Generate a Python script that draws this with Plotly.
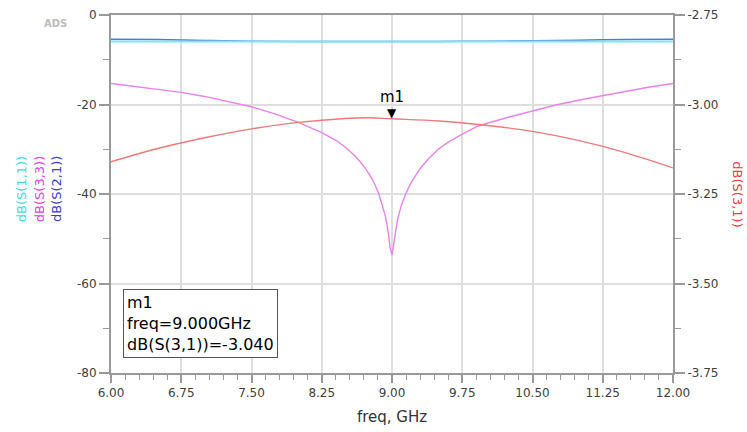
import plotly.graph_objects as go

# ---- data ----
freq_flat = [6.0, 6.5, 7.0, 7.5, 8.0, 8.5, 9.0, 9.5, 10.0, 10.5, 11.0, 11.5, 12.0]
s11_db = [-5.9, -5.9, -5.9, -5.9, -5.9, -5.9, -5.9, -5.9, -5.9, -5.9, -5.9, -5.9, -5.9]
s21_db = [-5.42, -5.5, -5.7, -5.86, -5.9, -5.9, -5.9, -5.9, -5.87, -5.77, -5.62, -5.5, -5.42]

freq_s33 = [6.0, 6.25, 6.5, 6.75, 7.0, 7.25, 7.5, 7.75, 8.0, 8.25, 8.4, 8.5, 8.6, 8.66, 8.72,
            8.78, 8.82, 8.86, 8.9, 8.93, 8.96, 8.98, 9.0, 9.03, 9.06, 9.1, 9.15, 9.2, 9.25,
            9.3, 9.4, 9.5, 9.6, 9.75, 9.9, 10.0, 10.25, 10.5, 10.75, 11.0, 11.25, 11.5, 11.75, 12.0]
s33_db = [-15.3, -16.0, -16.6, -17.3, -18.2, -19.3, -20.5, -22.1, -24.0, -26.3, -28.0, -29.5,
          -31.4, -32.8, -34.4, -36.4, -38.0, -40.0, -42.6, -45.0, -48.6, -52.0, -53.6, -50.0,
          -45.6, -42.5, -39.8, -37.6, -35.8, -34.3, -31.9, -29.9, -28.4, -26.6, -25.0, -24.3,
          -22.8, -21.4, -20.1, -19.0, -18.0, -17.0, -16.1, -15.3]

freq_s31 = [6.0, 6.5, 7.0, 7.5, 8.0, 8.5, 8.75, 9.0, 9.5, 10.0, 10.5, 11.0, 11.5, 12.0]
s31_db = [-3.160, -3.123, -3.093, -3.068, -3.050, -3.039, -3.037, -3.040, -3.046, -3.058,
          -3.075, -3.101, -3.135, -3.177]

marker_freq = 9.0
marker_val = -3.040

x_ticks = [6.0, 6.75, 7.5, 8.25, 9.0, 9.75, 10.5, 11.25, 12.0]
x_ticklabels = ["6.00", "6.75", "7.50", "8.25", "9.00", "9.75", "10.50", "11.25", "12.00"]
y_ticks = [0, -20, -40, -60, -80]
y_ticklabels = ["0", "-20", "-40", "-60", "-80"]
y2_ticks = [-2.75, -3.0, -3.25, -3.5, -3.75]
y2_ticklabels = ["-2.75", "-3.00", "-3.25", "-3.50", "-3.75"]

FONT = "DejaVu Sans"
AX = "#999999"
GRID = "#dedede"

fig = go.Figure()
fig.add_trace(go.Scatter(x=freq_flat, y=s21_db, mode="lines", line=dict(color="#4f78d8", width=1.5),
                         line_shape="spline", name="dB(S(2,1))"))
fig.add_trace(go.Scatter(x=freq_flat, y=s11_db, mode="lines", line=dict(color="#7fe6ee", width=2),
                         name="dB(S(1,1))"))
fig.add_trace(go.Scatter(x=freq_s33, y=s33_db, mode="lines", line=dict(color="#ea82ea", width=1.4),
                         name="dB(S(3,3))"))
fig.add_trace(go.Scatter(x=freq_s31, y=s31_db, mode="lines", line=dict(color="#f07878", width=1.4),
                         line_shape="spline", name="dB(S(3,1))", yaxis="y2"))

tick_font = dict(family=FONT, size=12, color="#404040")

fig.update_layout(
    width=747, height=432,
    margin=dict(l=111, r=74, t=15, b=59, autoexpand=False),
    paper_bgcolor="white", plot_bgcolor="white",
    showlegend=False,
    xaxis=dict(range=[6, 12], tickmode="array", tickvals=x_ticks, ticktext=x_ticklabels, automargin=False,
               showline=True, linecolor=AX, linewidth=2, mirror=True,
               ticks="outside", ticklen=8, tickcolor=AX, tickwidth=1.5,
               showgrid=True, gridcolor=GRID, gridwidth=1.5, zeroline=False,
               tickfont=tick_font,
               minor=dict(tick0=6, dtick=0.15, ticks="outside", ticklen=5, tickcolor=AX, tickwidth=1, showgrid=False),
               title=dict(text="freq, GHz", font=dict(family=FONT, size=15, color="#333333"), standoff=12)),
    yaxis=dict(range=[-80, 0], tickmode="array", tickvals=y_ticks, ticktext=y_ticklabels, automargin=False,
               showline=True, linecolor=AX, linewidth=2,
               ticks="outside", ticklen=10, tickcolor=AX, tickwidth=1.5,
               showgrid=True, gridcolor=GRID, gridwidth=1.5, zeroline=False,
               tickfont=tick_font,
               minor=dict(tick0=0, dtick=10, ticks="outside", ticklen=6, tickcolor=AX, tickwidth=1, showgrid=False)),
    yaxis2=dict(range=[-3.75, -2.75], tickmode="array", tickvals=y2_ticks, ticktext=y2_ticklabels,
                overlaying="y", side="right", automargin=False,
                showline=True, linecolor=AX, linewidth=2,
                ticks="outside", ticklen=10, tickcolor=AX, tickwidth=1.5,
                showgrid=False, zeroline=False, tickfont=tick_font,
                minor=dict(tick0=-3.75, dtick=0.125, ticks="outside", ticklen=6, tickcolor=AX, tickwidth=1, showgrid=False)),
)

# left axis titles
for txt, col, xp in [("dB(S(1,1))", "#3edcdc", -0.158), ("dB(S(3,3))", "#e040e0", -0.126),
                     ("dB(S(2,1))", "#3c3cd0", -0.096)]:
    fig.add_annotation(text=txt, xref="paper", yref="paper", x=xp, y=0.514, textangle=-90,
                       showarrow=False, xanchor="center", yanchor="middle",
                       font=dict(family=FONT, size=13, color=col))
# right axis title
fig.add_annotation(text="dB(S(3,1))", xref="paper", yref="paper", x=1.115, y=0.50, textangle=90,
                   showarrow=False, xanchor="center", yanchor="middle",
                   font=dict(family=FONT, size=13, color="#f03c3c"))
# ADS label
fig.add_annotation(text="<b>ADS</b>", xref="paper", yref="paper", x=-0.0996, y=0.975,
                   showarrow=False, xanchor="center", yanchor="middle",
                   font=dict(family=FONT, size=10, color="#bbbbbb"))

# marker m1
fig.add_annotation(text="▼", x=marker_freq, y=marker_val, xref="x", yref="y2", showarrow=False,
                   xanchor="center", yanchor="bottom", yshift=-3,
                   font=dict(family=FONT, size=12, color="black"))
fig.add_annotation(text="m1", x=marker_freq, y=marker_val, xref="x", yref="y2", showarrow=False,
                   xanchor="center", yanchor="bottom", yshift=11,
                   font=dict(family=FONT, size=15, color="black"))

# marker readout box
fig.add_annotation(text=f"m1<br>freq={marker_freq:.3f}GHz<br>dB(S(3,1))={marker_val:.3f}",
                   xref="paper", yref="paper", x=0.0214, y=0.042, showarrow=False,
                   xanchor="left", yanchor="bottom", align="left",
                   bordercolor="#555555", borderwidth=1, borderpad=3, bgcolor="white",
                   font=dict(family=FONT, size=16, color="black"))

fig.write_html("out.html", config={"displayModeBar": False},
               post_script="document.body.style.margin='0';document.body.style.overflow='hidden';")
